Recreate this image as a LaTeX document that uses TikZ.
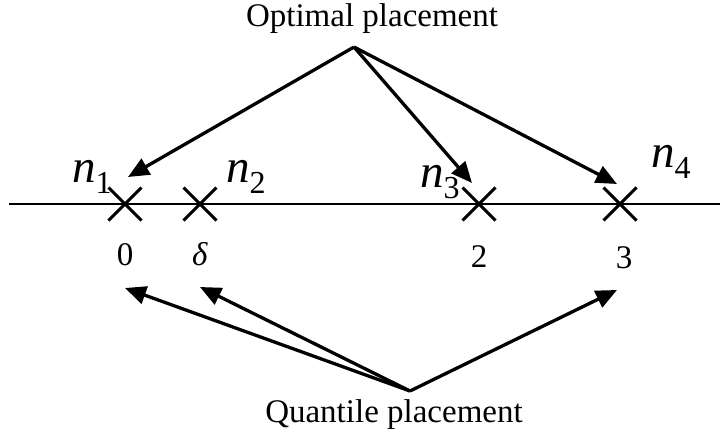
\documentclass[tikz,border=0pt]{standalone}
\usepackage{fontspec}
\setmainfont{Liberation Serif}
\usetikzlibrary{arrows.meta,shapes.misc}
\newcommand{\nlab}[1]{\textit{n}\raisebox{-11pt}{\fontsize{32}{32}\selectfont #1}}

\begin{document}
\begin{tikzpicture}[
  x=1pt, y=-1pt,
  every node/.style={inner sep=0pt},
  txt/.style={font=\fontsize{33}{36}\selectfont, anchor=base},
  val/.style={font=\fontsize{33}{35}\selectfont, anchor=base},
  nname/.style={font=\fontsize{47}{49}\selectfont, anchor=base west},
  pt/.style={cross out, draw, minimum size=30pt, line width=3pt},
  arr/.style={line width=3.3pt, -{Triangle[length=21pt,width=18pt]}}
]
\useasboundingbox (0,0) rectangle (720,434);
\coordinate (axl) at (9,204);
\coordinate (axr) at (720,204);
\draw[line width=1.4pt] (axl) -- (axr);
\node[pt] (x1) at (125,204) {};
\node[pt] (x2) at (200,204) {};
\node[pt] (x3) at (479,204) {};
\node[pt] (x4) at (620,204) {};
\node[nname] (l1) at (72,182) {\nlab{1}};
\node[nname] (l2) at (226,182) {\nlab{2}};
\node[nname] (l3) at (420,187) {\nlab{3}};
\node[nname] (l4) at (651,167) {\nlab{4}};
\node[val] (v1) at (125,265) {0};
\node[val] (v2) at (200,265) {\textit{δ}};
\node[val] (v3) at (479,267) {2};
\node[val] (v4) at (624,268) {3};
\node[txt] (opt) at (372,26) {Optimal placement};
\node[txt] (qnt) at (394,422) {Quantile placement};
\coordinate (os) at (354,47);
\coordinate (qs) at (410,391);
\coordinate (o1) at (128,177);
\coordinate (o2) at (472,183);
\coordinate (o3) at (617,184);
\coordinate (q1) at (125,288);
\coordinate (q2) at (200,287);
\coordinate (q3) at (617,290);
\foreach \t in {o1,o2,o3}
  \draw[arr] (os) -- (\t);
\foreach \t in {q1,q2,q3}
  \draw[arr] (qs) -- (\t);
\end{tikzpicture}
\end{document}
